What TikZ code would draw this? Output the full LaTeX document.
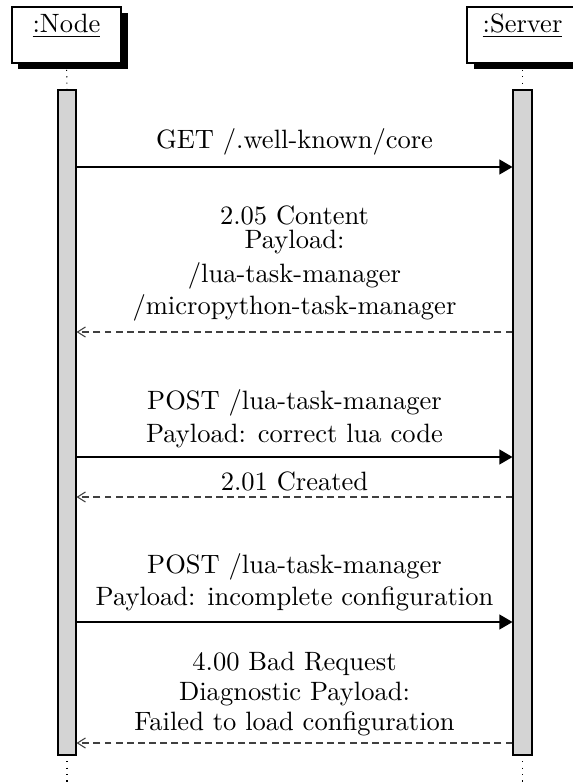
\documentclass[tikz,border=0pt]{standalone}
\usetikzlibrary{arrows.meta,shadows,fit}
\begin{document}
\begin{tikzpicture}[x=0.377pt,y=-0.377pt,
  obj/.style={draw=black, fill=white, inner sep=0pt,
    drop shadow={shadow xshift=2.45pt, shadow yshift=-2.1pt, fill=black, opacity=1}},
  actbar/.style={draw=black, fill=gray!34, inner sep=0pt},
  life/.style={dotted},
  callmsg/.style={-{Triangle[length=4.9pt,width=5.6pt]}},
  retmsg/.style={draw=black!75, dash pattern=on 2.6pt off 1.6pt, -{Straight Barb[length=3pt,width=3.8pt]}},
  lbl/.style={align=center, anchor=base}]

\useasboundingbox (0,0) rectangle (573,782);

% bottom ends of the lifelines
\coordinate (nbot) at (67,782);
\coordinate (sbot) at (522.5,782);

% objects
\node[obj, fit={(12,7) (121,63)}] (nobj) {\underline{:Node}};
\node[obj, fit={(467,7) (578,63)}] (sobj) {\underline{:Server}};

% lifelines
\draw[life] (nobj.south) -- (67,90);
\draw[life] (sobj.south) -- (522.5,90);
\draw[life] (67,755) -- (nbot);
\draw[life] (522.5,755) -- (sbot);

% activation bars
\node[actbar, fit={(58,90) (76,755)}] (nbar) {};
\node[actbar, fit={(513,90) (532,755)}] (sbar) {};

% message heights
\coordinate (y1) at (0,167);
\coordinate (y2) at (0,332);
\coordinate (y3) at (0,457);
\coordinate (y4) at (0,497);
\coordinate (y5) at (0,622);
\coordinate (y6) at (0,743);

\draw[callmsg] (nbar.east |- y1) -- (sbar.west |- y1);
\node[lbl] (t1) at (294.5,149) {GET /.well-known/core};

\draw[retmsg] (sbar.west |- y2) -- (nbar.east |- y2);
\node[lbl] (t2) at (294.5,314) {2.05 Content\\[-3pt]Payload:\\[0.8pt]/lua-task-manager\\/micropython-task-manager};

\draw[callmsg] (nbar.east |- y3) -- (sbar.west |- y3);
\node[lbl] (t3) at (294.5,442) {POST /lua-task-manager\\[0.4pt]Payload: correct lua code};

\draw[retmsg] (sbar.west |- y4) -- (nbar.east |- y4);
\node[lbl] (t4) at (294.5,490) {2.01 Created};

\draw[callmsg] (nbar.east |- y5) -- (sbar.west |- y5);
\node[lbl] (t5) at (294.5,605) {POST /lua-task-manager\\Payload: incomplete configuration};

\draw[retmsg] (sbar.west |- y6) -- (nbar.east |- y6);
\node[lbl] (t6) at (294.5,730) {4.00 Bad Request\\[-0.7pt]Diagnostic Payload:\\[-0.7pt]Failed to load configuration};
\end{tikzpicture}
\end{document}
